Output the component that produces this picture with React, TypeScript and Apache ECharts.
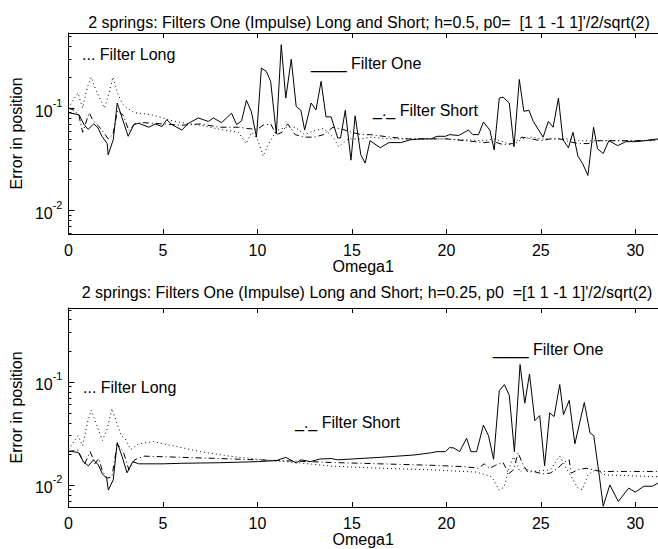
import React, { useEffect, useRef } from "react";
import * as echarts from "echarts";

// ---------- data ----------
const xTicks = [0, 5, 10, 15, 20, 25, 30];
const yMajor = [0.01, 0.1];
const yMinor = [0.006, 0.007, 0.008, 0.009, 0.02, 0.03, 0.04, 0.05, 0.06, 0.07, 0.08, 0.09, 0.2, 0.3, 0.4, 0.5];

const topTitle = "2 springs: Filters One (Impulse) Long and Short; h=0.5, p0=  [1 1 -1 1]'/2/sqrt(2)";
const bottomTitle = "2 springs: Filters One (Impulse) Long and Short; h=0.25, p0  =[1 1 -1 1]'/2/sqrt(2)";

const topOne: [number, number][] = [
  [0, 0.09], [0.56, 0.086], [0.82, 0.069], [1.04, 0.062], [1.34, 0.07], [1.56, 0.064], [1.77, 0.053],
  [2.05, 0.045], [2.1, 0.035], [2.37, 0.049], [2.58, 0.112], [2.84, 0.08], [3.16, 0.053], [3.46, 0.069],
  [3.72, 0.071], [4.25, 0.065], [4.6, 0.07], [4.95, 0.066], [5.2, 0.077], [5.47, 0.069], [6.0, 0.061],
  [6.35, 0.071], [6.87, 0.08], [7.14, 0.077], [7.4, 0.074], [7.67, 0.08], [8.1, 0.072], [8.63, 0.089],
  [8.9, 0.069], [9.16, 0.075], [9.42, 0.119], [9.68, 0.092], [9.95, 0.052], [10.21, 0.246], [10.47, 0.228],
  [10.7, 0.182], [11.0, 0.056], [11.26, 0.415], [11.5, 0.125], [11.79, 0.3], [12.05, 0.104], [12.3, 0.095],
  [12.5, 0.061], [12.84, 0.112], [13.1, 0.096], [13.37, 0.182], [13.63, 0.082], [13.9, 0.082],
  [14.25, 0.051], [14.4, 0.051], [14.65, 0.095], [14.95, 0.031], [15.17, 0.084], [15.47, 0.035],
  [15.7, 0.029], [15.96, 0.048], [16.5, 0.041], [16.96, 0.046], [17.58, 0.046], [18.1, 0.049],
  [18.65, 0.05], [19.2, 0.05], [19.5, 0.053], [19.95, 0.053], [20.17, 0.055], [20.65, 0.054],
  [21.17, 0.061], [21.4, 0.055], [21.7, 0.055], [21.96, 0.073], [22.3, 0.061], [22.53, 0.039],
  [22.8, 0.125], [23.0, 0.128], [23.33, 0.112], [23.58, 0.042], [23.86, 0.19], [24.1, 0.093],
  [24.37, 0.095], [24.6, 0.074], [25.12, 0.052], [25.4, 0.074], [25.65, 0.065], [25.93, 0.125],
  [26.17, 0.049], [26.46, 0.041], [26.7, 0.058], [26.96, 0.034], [27.2, 0.029], [27.49, 0.022],
  [27.79, 0.065], [28.0, 0.04], [28.3, 0.036], [28.6, 0.048], [29.07, 0.043], [29.5, 0.047],
  [30.05, 0.047], [30.5, 0.048], [31.2, 0.05],
];

const topLong: [number, number][] = [
  [0, 0.1], [0.25, 0.12], [0.5, 0.14], [0.75, 0.1], [1.0, 0.16], [1.2, 0.2], [1.45, 0.15], [1.7, 0.12],
  [1.9, 0.1], [2.1, 0.13], [2.35, 0.2], [2.6, 0.14], [2.85, 0.11], [3.1, 0.1], [3.5, 0.09], [4, 0.088],
  [4.5, 0.085], [5, 0.08], [5.5, 0.075], [6, 0.072], [6.5, 0.07], [7, 0.068], [7.5, 0.065], [8, 0.062],
  [8.5, 0.06], [9, 0.058], [9.4, 0.045], [9.7, 0.058], [10, 0.05], [10.3, 0.034], [10.6, 0.045],
  [11, 0.06], [11.5, 0.065], [12, 0.065], [12.5, 0.055], [13, 0.06], [13.5, 0.063], [14, 0.052],
  [14.3, 0.042], [14.8, 0.05], [15.5, 0.05], [16, 0.052], [17, 0.05], [18, 0.05], [19, 0.05], [20, 0.05],
  [21, 0.049], [22, 0.048], [22.5, 0.05], [23, 0.047], [23.5, 0.043], [24, 0.05], [24.5, 0.052],
  [25, 0.05], [26, 0.05], [26.5, 0.05], [27, 0.048], [28, 0.048], [29, 0.048], [30, 0.048], [31.2, 0.048],
];

const topShort: [number, number][] = [
  [0, 0.1], [0.3, 0.095], [0.55, 0.085], [0.75, 0.058], [1.1, 0.09], [1.3, 0.075], [1.55, 0.068],
  [1.8, 0.06], [2.1, 0.05], [2.35, 0.055], [2.6, 0.095], [2.9, 0.085], [3.2, 0.06], [3.5, 0.07],
  [4, 0.072], [5, 0.07], [6, 0.068], [7, 0.07], [8, 0.065], [9, 0.065], [9.5, 0.063], [10, 0.062],
  [10.3, 0.068], [10.7, 0.07], [11, 0.055], [11.3, 0.058], [11.6, 0.07], [12, 0.055], [12.5, 0.052],
  [13, 0.052], [13.5, 0.055], [14, 0.065], [14.5, 0.062], [15, 0.058], [15.5, 0.055], [16, 0.055],
  [17, 0.052], [18, 0.05], [19, 0.05], [20, 0.05], [21, 0.048], [22, 0.046], [22.5, 0.047], [23, 0.044],
  [23.5, 0.045], [24, 0.052], [24.5, 0.05], [25, 0.048], [25.5, 0.05], [26, 0.05], [26.5, 0.047],
  [27, 0.045], [27.5, 0.045], [28, 0.048], [29, 0.048], [30, 0.048], [31.2, 0.049],
];

const bottomOne: [number, number][] = [
  [0, 0.0213], [0.53, 0.0206], [0.79, 0.0168], [1.05, 0.0153], [1.32, 0.0175], [1.58, 0.0156],
  [1.79, 0.0128], [2.02, 0.0116], [2.11, 0.0089], [2.37, 0.0112], [2.58, 0.0257], [2.84, 0.0188],
  [3.1, 0.0131], [3.4, 0.0168], [3.72, 0.016], [4.0, 0.016], [5, 0.016], [6, 0.0162], [7, 0.0163],
  [8, 0.0164], [9, 0.0166], [10, 0.0168], [11, 0.0172], [11.5, 0.0185], [12.05, 0.0163], [12.3, 0.0175],
  [12.8, 0.0168], [13.3, 0.0178], [13.9, 0.018], [14.25, 0.0175], [14.95, 0.0178], [16.5, 0.0185],
  [18.3, 0.0195], [19.2, 0.0205], [19.5, 0.021], [19.95, 0.021], [20.17, 0.023], [20.4, 0.0228],
  [20.7, 0.021], [21.07, 0.0283], [21.3, 0.021], [21.6, 0.021], [21.96, 0.038], [22.23, 0.03],
  [22.5, 0.0177], [22.8, 0.082], [23.07, 0.094], [23.33, 0.074], [23.6, 0.021], [23.9, 0.147],
  [24.15, 0.062], [24.4, 0.119], [24.68, 0.042], [24.94, 0.047], [25.2, 0.0153], [25.47, 0.05],
  [25.7, 0.046], [26.0, 0.094], [26.2, 0.048], [26.5, 0.066], [26.8, 0.025], [27.3, 0.063],
  [27.6, 0.032], [27.8, 0.03], [28.1, 0.012], [28.3, 0.0062], [28.65, 0.01], [29.1, 0.0069],
  [29.65, 0.0093], [30.0, 0.0085], [30.45, 0.0097], [30.9, 0.0097], [31.2, 0.0104],
];

const bottomLong: [number, number][] = [
  [0, 0.022], [0.5, 0.03], [0.75, 0.024], [1.0, 0.04], [1.2, 0.053], [1.45, 0.04], [1.8, 0.027],
  [2.05, 0.035], [2.3, 0.055], [2.55, 0.04], [2.8, 0.03], [3.0, 0.028], [3.3, 0.022], [3.7, 0.025],
  [4.5, 0.0263], [5.5, 0.024], [7.0, 0.021], [8.5, 0.019], [10, 0.0177], [12.3, 0.0163], [13.9, 0.0152],
  [16.5, 0.0145], [19.2, 0.014], [21.6, 0.0133], [22.4, 0.012], [22.8, 0.0089], [23.05, 0.0095],
  [23.3, 0.014], [23.55, 0.0188], [23.9, 0.0133], [24.1, 0.0144], [24.6, 0.0135], [25.5, 0.014],
  [26.0, 0.019], [26.4, 0.014], [26.96, 0.0093], [27.2, 0.009], [27.5, 0.0125], [27.9, 0.014],
  [28.4, 0.0125], [29.5, 0.0123], [31.2, 0.012],
];

const bottomShort: [number, number][] = [
  [0, 0.021], [0.5, 0.0218], [0.84, 0.0158], [1.15, 0.021], [1.4, 0.016], [1.6, 0.018], [1.8, 0.0135],
  [2.05, 0.0116], [2.3, 0.012], [2.58, 0.025], [2.9, 0.021], [3.2, 0.014], [3.5, 0.0175], [4, 0.019],
  [6, 0.0185], [8, 0.018], [10, 0.0175], [12, 0.017], [13.9, 0.0165], [16.5, 0.016], [19.2, 0.0155],
  [21, 0.015], [21.7, 0.0145], [22, 0.016], [22.3, 0.0145], [22.6, 0.0155], [23.0, 0.0165],
  [23.3, 0.0128], [23.55, 0.014], [23.8, 0.0205], [24.0, 0.0165], [24.3, 0.0133], [24.6, 0.0135],
  [25.1, 0.0128], [25.5, 0.013], [25.9, 0.0145], [26.2, 0.0165], [26.5, 0.0175], [26.6, 0.013],
  [26.96, 0.014], [27.4, 0.0145], [27.8, 0.014], [28.2, 0.0135], [29.5, 0.0135], [31.2, 0.0135],
];

const FONT = "Liberation Sans, Arial, Helvetica, sans-serif";
const FS = 16;
const X_MAX = 31.2;

function App() {
  const ref = useRef<HTMLDivElement>(null);
  useEffect(() => {
    document.body.style.margin = "0";
    if (!ref.current) return;
    const chart = echarts.init(ref.current, undefined, { renderer: "svg" });

    const grids = [
      { left: 66, top: 33, width: 592, height: 201 },
      { left: 66, top: 308, width: 592, height: 199 },
    ];
    const yRanges = [
      [0.0059, 0.54],
      [0.0061, 0.52],
    ];

    const xAxes: any[] = [];
    const yAxes: any[] = [];
    [0, 1].forEach((g) => {
      xAxes.push({
        gridIndex: g,
        type: "value",
        min: 0,
        max: X_MAX,
        interval: 5,
        position: "bottom",
        name: "Omega1",
        nameLocation: "middle",
        nameGap: 14,
        nameTextStyle: { color: "#000", fontSize: FS, fontFamily: FONT },
        axisLine: { show: true, lineStyle: { color: "#000", width: 1 } },
        axisTick: { show: true, inside: true, length: 5, customValues: xTicks, lineStyle: { color: "#000" } },
        axisLabel: { color: "#000", fontSize: FS, fontFamily: FONT, margin: 8, customValues: xTicks },
        splitLine: { show: false },
      });
      xAxes.push({
        gridIndex: g,
        type: "value",
        min: 0,
        max: X_MAX,
        interval: 5,
        position: "top",
        axisLine: { show: true, onZero: false, lineStyle: { color: "#000", width: 1 } },
        axisTick: { show: true, inside: true, length: 5, customValues: xTicks, lineStyle: { color: "#000" } },
        axisLabel: { show: false },
        splitLine: { show: false },
      });
      yAxes.push({
        gridIndex: g,
        type: "log",
        logBase: 10,
        min: yRanges[g][0],
        max: yRanges[g][1],
        position: "left",
        name: "Error in position",
        nameLocation: "middle",
        nameRotate: 90,
        nameGap: 35,
        nameTextStyle: { color: "#000", fontSize: FS, fontFamily: FONT },
        axisLine: { show: true, lineStyle: { color: "#000", width: 1 } },
        axisTick: { show: true, inside: true, length: 6, customValues: yMajor, lineStyle: { color: "#000" } },
        axisLabel: {
          color: "#000",
          fontFamily: FONT,
          customValues: yMajor,
          margin: 6,
          formatter: (v: number) => `{b|10}{s|${Math.round(Math.log10(v))}}`,
          rich: {
            b: { fontSize: FS, fontFamily: FONT, color: "#000", lineHeight: 22, verticalAlign: "bottom" },
            s: { fontSize: 11, fontFamily: FONT, color: "#000", lineHeight: 12, verticalAlign: "top" },
          },
        },
        splitLine: { show: false },
      });
      yAxes.push({
        gridIndex: g,
        type: "log",
        logBase: 10,
        min: yRanges[g][0],
        max: yRanges[g][1],
        position: "left",
        axisLine: { show: false },
        axisTick: { show: true, inside: true, length: 3, customValues: yMinor, lineStyle: { color: "#000" } },
        axisLabel: { show: false },
        splitLine: { show: false },
      });
    });

    const mk = (name: string, data: [number, number][], g: number, type: any) => ({
      name,
      type: "line",
      xAxisIndex: g * 2,
      yAxisIndex: g * 2,
      data,
      showSymbol: false,
      symbol: "none",
      clip: true,
      lineStyle: { color: "#000", width: 1, type },
    });

    const txt = (text: string, x: number, y: number) => ({
      type: "text",
      x,
      y,
      style: { text, fill: "#000", fontSize: FS, fontFamily: FONT, textVerticalAlign: "middle", textAlign: "left" },
    });

    chart.setOption({
      animation: false,
      backgroundColor: "#fff",
      title: [
        {
          text: topTitle,
          left: 364,
          top: 9,
          textAlign: "center",
          textStyle: { color: "#000", fontSize: FS, fontWeight: "normal", fontFamily: FONT },
        },
        {
          text: bottomTitle,
          left: 362,
          top: 279,
          textAlign: "center",
          textStyle: { color: "#000", fontSize: FS, fontWeight: "normal", fontFamily: FONT },
        },
      ],
      grid: grids,
      xAxis: xAxes,
      yAxis: yAxes,
      series: [
        mk("Filter One", topOne, 0, "solid"),
        mk("Filter Long", topLong, 0, [1, 3]),
        mk("Filter Short", topShort, 0, [6, 3, 1, 3]),
        mk("Filter One", bottomOne, 1, "solid"),
        mk("Filter Long", bottomLong, 1, [1, 3]),
        mk("Filter Short", bottomShort, 1, [6, 3, 1, 3]),
      ],
      graphic: [
        txt("... Filter Long", 82, 54),
        txt("____ Filter One", 311, 63),
        txt("_._ Filter Short", 373, 110),
        txt("... Filter Long", 83, 387),
        txt("____ Filter One", 493, 349),
        txt("_._ Filter Short", 295, 422),
      ],
    });
    return () => chart.dispose();
  }, []);
  return <div ref={ref} style={{ width: 658, height: 549 }} />;
}

export default App;
